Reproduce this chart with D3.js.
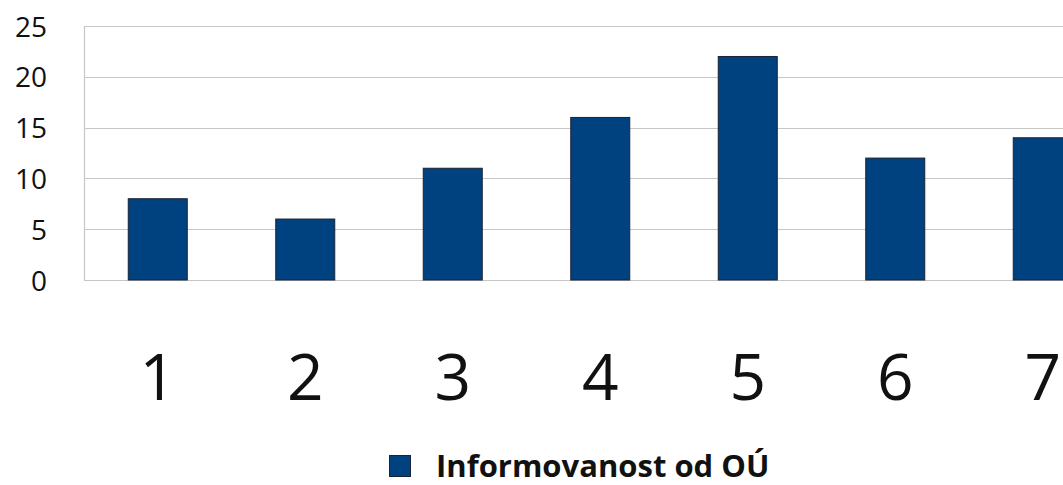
<!DOCTYPE html>
<html><head><meta charset="utf-8">
<script src="https://cdn.jsdelivr.net/npm/d3@7"></script>
<style>body{margin:0;background:#fff}svg{display:block}</style>
</head><body>
<svg id="c" width="1063" height="485"></svg>
<script>
const categories = ["1","2","3","4","5","6","7"];
const values = [8, 6, 11, 16, 22, 12, 14];
const yTicks = [0, 5, 10, 15, 20, 25];
const seriesName = "Informovanost od OÚ";

const svg = d3.select("#c");
const plotLeft = 84, plotTop = 26, plotBottom = 280, step = 147.5;
const x = d3.scaleBand().domain(categories).range([plotLeft, plotLeft + step * categories.length]).paddingInner(0.6).paddingOuter(0.3);
const y = d3.scaleLinear().domain([0, 25]).range([plotBottom, plotTop]);

// gridlines
svg.append("g").selectAll("line").data(yTicks).join("line")
  .attr("x1", plotLeft).attr("x2", 1063)
  .attr("y1", d => Math.round(y(d)) + 0.5).attr("y2", d => Math.round(y(d)) + 0.5)
  .attr("stroke", "#c6c6c6").attr("stroke-width", 1.2);
svg.append("line").attr("x1", plotLeft + 0.5).attr("x2", plotLeft + 0.5)
  .attr("y1", y(25)).attr("y2", y(0)).attr("stroke", "#c6c6c6").attr("stroke-width", 1.2);

// y axis labels
const yAxis = d3.axisLeft(y).tickValues(yTicks).tickSize(0).tickPadding(0);
const ga = svg.append("g").attr("transform", `translate(47,0)`).call(yAxis);
ga.select(".domain").remove();
ga.selectAll("text").attr("font-family", "Open Sans, sans-serif").attr("font-size", 28).attr("fill", "#111").attr("dy", "0.36em");

// bars
svg.append("g").selectAll("rect").data(values).join("rect")
  .attr("x", (d, i) => x(categories[i]))
  .attr("width", x.bandwidth())
  .attr("y", d => y(d))
  .attr("height", d => y(0) - y(d))
  .attr("fill", "#00427f").attr("stroke", "#1b2233").attr("stroke-width", 1);

// x labels
const xAxis = d3.axisBottom(x).tickSize(0).tickPadding(0);
const gx = svg.append("g").attr("transform", `translate(0,400)`).call(xAxis);
gx.select(".domain").remove();
gx.selectAll("text").attr("font-family", "Open Sans, sans-serif").attr("font-size", 64).attr("fill", "#111").attr("dy", 0);

// legend
const lg = svg.append("g");
lg.append("rect").attr("x", 389.5).attr("y", 455.5).attr("width", 21).attr("height", 21)
  .attr("fill", "#00427f").attr("stroke", "#1b2233").attr("stroke-width", 1);
lg.append("text").attr("x", 436).attr("y", 477).text(seriesName)
  .attr("font-family", "Open Sans, sans-serif").attr("font-weight", "bold").attr("font-size", 31).attr("fill", "#111");
</script>
</body></html>
